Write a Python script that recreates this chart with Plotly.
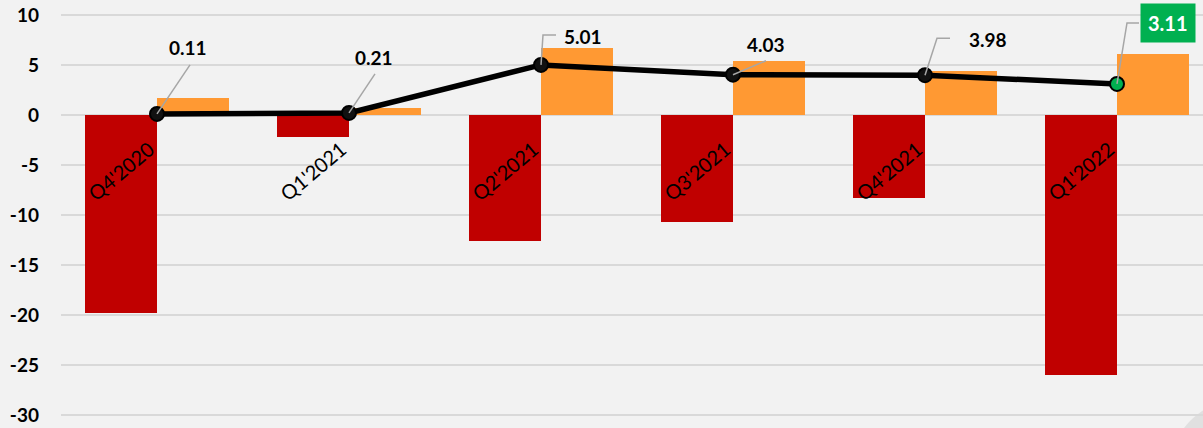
import plotly.graph_objects as go

categories = ["Q4'2020", "Q1'2021", "Q2'2021", "Q3'2021", "Q4'2021", "Q1'2022"]
red_values = [-19.8, -2.2, -12.6, -10.7, -8.3, -26.0]
orange_values = [1.7, 0.7, 6.7, 5.4, 4.4, 6.1]
line_values = [0.11, 0.21, 5.01, 4.03, 3.98, 3.11]
value_labels = ["0.11", "0.21", "5.01", "4.03", "3.98", "3.11"]
y_ticks = [-30, -25, -20, -15, -10, -5, 0, 5, 10]

FONT = "Lato"
idx = list(range(len(categories)))

fig = go.Figure()
fig.add_trace(go.Bar(x=idx, y=red_values, marker=dict(color="#C00000", line=dict(width=0)), showlegend=False))
fig.add_trace(go.Bar(x=idx, y=orange_values, marker=dict(color="#FF9933", line=dict(width=0)), showlegend=False))

# label styling offsets (pixels) : text shift and leader path (dx, dy) relative to point
label_shift = [(31, 66), (25, 55), (42, 28), (33, 30), (63, 36), (51, 61)]
leader_paths = [
    [(33, 49)],
    [(26, 39)],
    [(2, 30), (15, 30)],
    [(33, 14)],
    [(12, 37), (25, 37)],
    [(10, 61), (22, 61)],
]
PX_X = 192.0
PX_Y = 10.0

shapes = []
for i, v in enumerate(line_values):
    pts = [(i, v)] + [(i + dx / PX_X, v + dy / PX_Y) for dx, dy in leader_paths[i]]
    path = "M " + " L ".join(f"{x},{y}" for x, y in pts)
    shapes.append(dict(type="path", xref="x", yref="y", path=path,
                       line=dict(color="#A6A6A6", width=1.5), layer="above"))

# decorative corner circle
shapes.append(dict(type="circle", xref="paper", yref="paper",
                   x0=(1170 - 61) / 1142, x1=(1310 - 61) / 1142,
                   y0=(428 - 540) / 428, y1=(428 - 400) / 428,
                   fillcolor="#E0E0E0", line=dict(width=0), layer="below"))

fig.add_trace(go.Scatter(
    x=idx, y=line_values, mode="lines+markers",
    line=dict(color="#000000", width=5.5),
    marker=dict(size=14, color=["#111111"] * 5 + ["#00B050"],
                line=dict(color="#000000", width=2)),
    showlegend=False, cliponaxis=False))

annotations = []
for i, v in enumerate(line_values):
    last = i == len(line_values) - 1
    annotations.append(dict(
        x=i, y=v, xref="x", yref="y", text=f"<b>{value_labels[i]}</b>",
        showarrow=False, xshift=label_shift[i][0], yshift=label_shift[i][1],
        font=dict(family=FONT, size=20 if last else 19, color="#FFFFFF" if last else "#000000"),
        bgcolor="#00B050" if last else None, borderpad=7 if last else 0))

for i, c in enumerate(categories):
    annotations.append(dict(
        x=i, y=0, xref="x", yref="y", text=c, showarrow=False,
        textangle=-40, xanchor="right", yanchor="top", xshift=4, yshift=-19,
        font=dict(family=FONT, size=20, color="#000000")))

fig.update_layout(
    width=1203, height=428,
    margin=dict(l=61, r=0, t=0, b=0),
    paper_bgcolor="#F2F2F2", plot_bgcolor="#F2F2F2",
    barmode="group", bargap=0.25, bargroupgap=0,
    shapes=shapes, annotations=annotations,
    xaxis=dict(range=[-0.5, -0.5 + 1142 / PX_X], showticklabels=False,
               showgrid=False, zeroline=False, showline=False, fixedrange=True),
    yaxis=dict(range=[-31.3, 11.5], tickvals=y_ticks,
               ticktext=[f"<b>{t}</b>" for t in y_ticks],
               tickfont=dict(family=FONT, size=19, color="#000000"),
               showgrid=True, gridcolor="#D9D9D9", gridwidth=2,
               zeroline=False, showline=False, ticks="", ticklabelstandoff=21),
)

fig.write_html("out.html")
